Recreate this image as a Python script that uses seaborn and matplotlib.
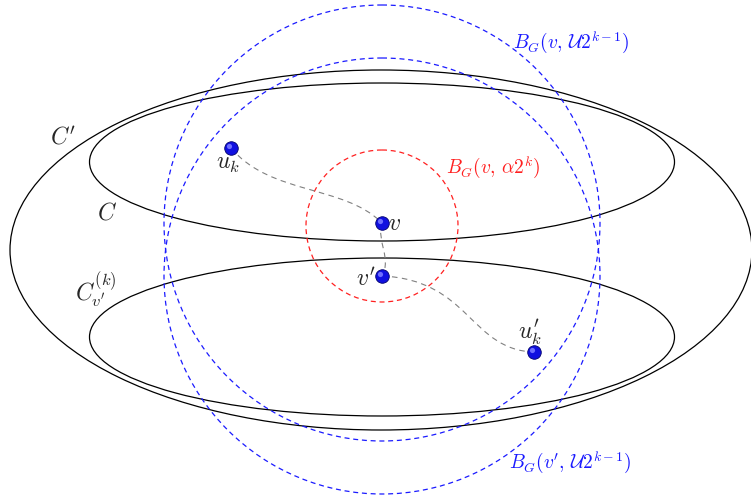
import matplotlib
matplotlib.use("Agg")
import matplotlib.pyplot as plt
import seaborn as sns
import pandas as pd
from matplotlib.patches import Ellipse, Circle, PathPatch
from matplotlib.path import Path

sns.set_theme(style="white")
plt.rcParams["mathtext.fontset"] = "cm"
plt.rcParams["font.family"] = ["DejaVu Sans"]

# vertex positions (drawing units, y grows downward)
node_names = ["u_k", "v", "v'", "u'_k"]
node_x = [231, 382, 382, 534]
node_y = [148, 223, 276, 352]

df = pd.DataFrame({"name": node_names, "x": node_x, "y": node_y})

fig = plt.figure(figsize=(7.51, 4.98), dpi=100)
ax = fig.add_axes([0, 0, 1, 1])
ax.set_xlim(0, 751)
ax.set_ylim(498, 0)
ax.set_aspect("equal")
ax.axis("off")

# clusters
ax.add_patch(Ellipse((381, 250), 742, 360, fill=False, ec="black", lw=0.9))
ax.add_patch(Ellipse((382, 162), 585, 158, fill=False, ec="black", lw=0.9))
ax.add_patch(Ellipse((382, 337), 585, 158, fill=False, ec="black", lw=0.9))

# balls
ax.add_patch(Circle((382, 226), 76, fill=False, ec="#ff2020", lw=0.9, ls=(0, (4, 3))))
ax.add_patch(Circle((382, 223), 218, fill=False, ec="#1a1aff", lw=0.9, ls=(0, (4, 3))))
ax.add_patch(Circle((382, 276), 218, fill=False, ec="#1a1aff", lw=0.9, ls=(0, (4, 3))))

# paths between vertices
gray = "#808080"
paths = [
    [(231, 148), (270, 195), (345, 185), (382, 223)],
    [(382, 223), (376, 240), (392, 258), (382, 276)],
    [(382, 276), (470, 280), (470, 350), (534, 352)],
]
for pts in paths:
    p = Path(pts, [Path.MOVETO, Path.CURVE4, Path.CURVE4, Path.CURVE4])
    ax.add_patch(PathPatch(p, fill=False, ec=gray, lw=0.8, ls=(0, (5, 4))))

# vertices
sns.scatterplot(data=df, x="x", y="y", ax=ax, s=95, color="#1010e0",
                edgecolor="#00006a", linewidth=0.6, legend=False, zorder=5)
ax.scatter(df["x"] - 2, df["y"] - 2, s=14, color="#6f6fff", lw=0, zorder=6)
ax.set_xlabel("")
ax.set_ylabel("")

fs = 17
ax.text(216, 163, r"$u_k$", fontsize=fs, ha="left", va="center")
ax.text(388, 223, r"$v$", fontsize=fs, ha="left", va="center")
ax.text(375, 279, r"$v^{\prime}$", fontsize=fs, ha="right", va="center")
ax.text(518, 332, r"$u_k^{\prime}$", fontsize=fs, ha="left", va="center")
ax.text(50, 137, r"$C'$", fontsize=fs, ha="left", va="center")
ax.text(97, 212, r"$C$", fontsize=fs, ha="left", va="center")
ax.text(75, 290, r"$C_{v'}^{(k)}$", fontsize=fs, ha="left", va="center")

sfs = 14
ax.text(513, 43, r"$B_G(v,\,\mathcal{U}2^{k-1})$", fontsize=sfs, color="#1a1aff",
        ha="left", va="center")
ax.text(446, 168, r"$B_G(v,\,\alpha 2^k)$", fontsize=sfs, color="#ff2020",
        ha="left", va="center")
ax.text(509, 463, r"$B_G(v',\,\mathcal{U}2^{k-1})$", fontsize=sfs, color="#1a1aff",
        ha="left", va="center")

fig.savefig("out.png", dpi=100)
